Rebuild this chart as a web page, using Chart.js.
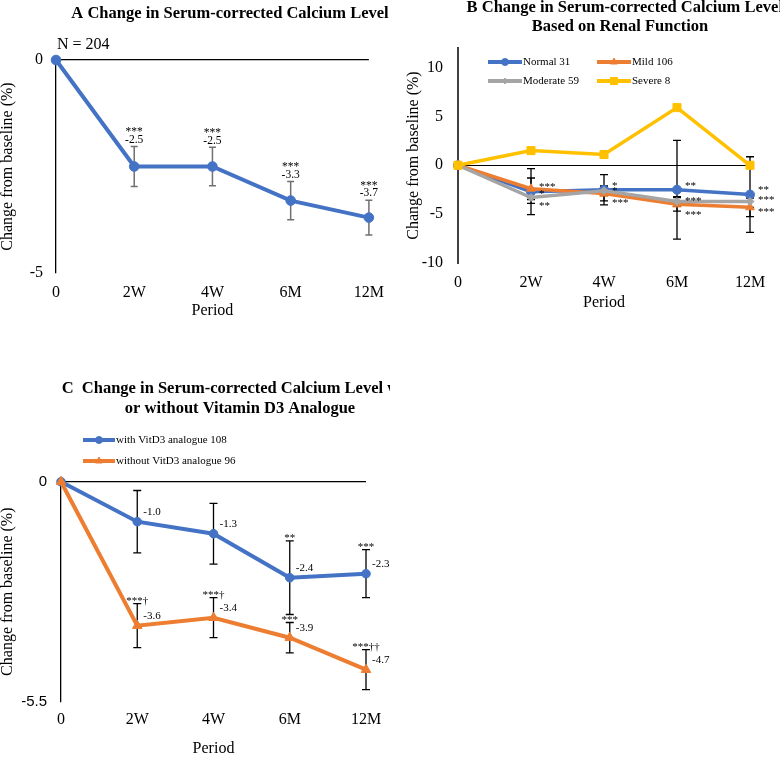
<!DOCTYPE html>
<html><head><meta charset="utf-8">
<script src="https://cdn.jsdelivr.net/npm/chart.js@4.4.1/dist/chart.umd.min.js"></script>
<style>
html,body{margin:0;padding:0;background:#fff;overflow:hidden;width:780px;height:757px;}
.panel{position:absolute;overflow:hidden;}
canvas{display:block;}
</style></head><body>
<div class="panel" style="left:0;top:0;width:390px;height:330px"><canvas id="cA" width="396" height="330"></canvas></div>
<div class="panel" style="left:390px;top:0;width:390px;height:330px"><canvas id="cB" width="390" height="330"></canvas></div>
<div class="panel" style="left:0;top:380px;width:390px;height:377px"><canvas id="cC" width="393" height="377"></canvas></div>
<script>
// ---------- data ----------
const periods = ['0', '2W', '4W', '6M', '12M'];

// Panel A (N = 204)
const allMean = [0, -2.5, -2.5, -3.3, -3.7];
const allErr  = [0, 0.47, 0.45, 0.45, 0.41];
const allSig  = ['', '***', '***', '***', '***'];
const yTicksA = [-5, 0];

// Panel B (renal function)
const normalMean   = [0, -2.7, -2.5, -2.5, -3.0];
const normalErr    = [0, 2.35, 1.55, 5.05, 3.87];
const normalSig    = ['', '*', '*', '**', '**'];
const mildMean     = [0, -2.4, -2.9, -4.0, -4.3];
const mildErr      = [0, 1.1, 0.75, 0.7, 0.95];
const mildSig      = ['', '***', '***', '***', '***'];
const moderateMean = [0, -3.3, -2.6, -3.7, -3.7];
const moderateErr  = [0, 0.6, 0.5, 0.5, 0.6];
const moderateSig  = ['', '**', '*', '***', '***'];
const severeMean   = [0, 1.5, 1.1, 5.9, 0];
const yTicksB = [-10, -5, 0, 5, 10];

// Panel C (vitamin D3 analogue)
const withVitMean    = [0, -1.0, -1.3, -2.4, -2.3];
const withVitErr     = [0, 0.78, 0.76, 0.92, 0.6];
const withVitSig     = ['', '', '', '**', '***'];
const withoutVitMean = [0, -3.6, -3.4, -3.9, -4.7];
const withoutVitErr  = [0, 0.55, 0.5, 0.38, 0.5];
const withoutVitSig  = ['', '***†', '***†', '***', '***††'];
const yTicksC = [-5.5, 0];

// ---------- style ----------
const SERIF = '"Liberation Serif", "Times New Roman", serif';
const SANS = '"Liberation Sans", Arial, sans-serif';
const BLUE = '#4472C4', ORANGE = '#ED7D31', GRAY = '#A5A5A5', YELLOW = '#FFC000';
Chart.defaults.font.family = SERIF;
Chart.defaults.color = '#000';

// label nudges (style only) for panel B significance marks
const nudgeNormal = [0, 0, -6.7, -6, -7.3];
const nudgeMild = [0, -4.3, 6.7, 7.7, 2];
const nudgeModerate = [0, 6, -2, -2.7, -3.7];

function drawText(ctx, t) {
  ctx.save();
  ctx.font = (t.bold ? 'bold ' : '') + t.size + 'px ' + (t.family || SERIF);
  ctx.fillStyle = '#000';
  ctx.textAlign = t.align || 'center';
  ctx.textBaseline = 'alphabetic';
  ctx.fillText(t.text, t.x, t.y);
  ctx.restore();
}

const decor = {
  id: 'decor',
  beforeDatasetsDraw(chart, args, opts) {
    const xs = chart.scales.x, ys = chart.scales.y, ctx = chart.ctx;
    chart.data.datasets.forEach(ds => {
      if (!ds.errors) return;
      ctx.save();
      ctx.strokeStyle = opts.errColor;
      ctx.lineWidth = opts.errWidth;
      ds.data.forEach((v, i) => {
        const e = ds.errors[i];
        if (!e) return;
        const x = xs.getPixelForValue(i);
        const y1 = ys.getPixelForValue(v + e), y2 = ys.getPixelForValue(v - e);
        const c = opts.capHalf;
        ctx.beginPath();
        ctx.moveTo(x, y1); ctx.lineTo(x, y2);
        ctx.moveTo(x - c, y1); ctx.lineTo(x + c, y1);
        ctx.moveTo(x - c, y2); ctx.lineTo(x + c, y2);
        ctx.stroke();
      });
      ctx.restore();
    });
  },
  afterDatasetsDraw(chart, args, opts) {
    const ctx = chart.ctx, xs = chart.scales.x, ys = chart.scales.y;
    ctx.save();
    ctx.font = opts.noteSize + 'px ' + SERIF;
    ctx.fillStyle = '#000';
    ctx.textBaseline = 'alphabetic';
    chart.data.datasets.forEach(ds => {
      if (!ds.sig) return;
      ds.data.forEach((v, i) => {
        if (i === 0) return;
        const s = ds.sig[i];
        const e = ds.errors ? ds.errors[i] : 0;
        const x = xs.getPixelForValue(i), y = ys.getPixelForValue(v), yTop = ys.getPixelForValue(v + e);
        if (opts.labelMode === 'above') {
          ctx.textAlign = 'center';
          if (ds.showValues) ctx.fillText(v.toFixed(1), x, yTop - 3.7);
          if (s) ctx.fillText(s, x, yTop - 11);
        } else if (opts.labelMode === 'side') {
          if (s) { ctx.textAlign = 'center'; ctx.fillText(s, x, yTop + 0.5); }
          if (ds.showValues) { ctx.textAlign = 'left'; ctx.fillText(v.toFixed(1), x + 6, y - 7); }
        } else {
          if (s) {
            ctx.textAlign = 'left';
            const n = ds.sigNudge ? ds.sigNudge[i] : 0;
            ctx.fillText(s, x + 8, y + n + 5.5);
          }
        }
      });
    });
    ctx.restore();
    (opts.titles || []).forEach(t => drawText(ctx, t));
    if (opts.legend) {
      const L = opts.legend;
      L.items.forEach(it => {
        const ds = chart.data.datasets[it.ds];
        ctx.save();
        ctx.strokeStyle = ds.borderColor;
        ctx.lineWidth = L.lineWidth;
        ctx.beginPath(); ctx.moveTo(it.x, it.y); ctx.lineTo(it.x + L.lineLen, it.y); ctx.stroke();
        ctx.fillStyle = ds.borderColor;
        ctx.lineWidth = 1;
        Chart.helpers.drawPoint(ctx, {pointStyle: ds.pointStyle, radius: ds.legendRadius, rotation: 0, borderWidth: 1}, it.x + L.lineLen / 2, it.y);
        ctx.fillStyle = '#000';
        ctx.font = L.size + 'px ' + SERIF;
        ctx.textAlign = 'left';
        ctx.textBaseline = 'middle';
        ctx.fillText(ds.label, it.x + L.lineLen + 1, it.y);
        ctx.restore();
      });
    }
  }
};

function series(label, data, color, style, radius, extra) {
  return Object.assign({
    label, data,
    borderColor: color, backgroundColor: color,
    pointBackgroundColor: color, pointBorderColor: color,
    pointStyle: style, pointRadius: radius, pointBorderWidth: 1,
    borderWidth: 4, tension: 0, clip: false, legendRadius: radius * 0.8
  }, extra || {});
}

function makeChart(id, datasets, yMin, yMax, yTicks, g, decorOpts, yTickFont) {
  return new Chart(document.getElementById(id), {
    type: 'line',
    data: {labels: periods, datasets},
    options: {
      responsive: false, animation: false, devicePixelRatio: 1,
      layout: {padding: g.padding},
      plugins: {legend: {display: false}, title: {display: false}, tooltip: {enabled: false}, decor: decorOpts},
      scales: {
        x: {
          type: 'category', offset: false,
          grid: {display: false, drawTicks: false}, border: {display: false},
          ticks: {font: {family: SERIF, size: 16, lineHeight: 1}, color: '#000', padding: g.xTickPad, maxRotation: 0, autoSkip: false},
          title: {display: true, text: 'Period', font: {family: SERIF, size: 16, lineHeight: 1}, color: '#000', padding: {top: 0, bottom: g.xTitlePadB}},
          afterFit: s => { s.height = g.xH; }
        },
        y: {
          min: yMin, max: yMax,
          afterBuildTicks: s => { s.ticks = yTicks.map(v => ({value: v})); },
          grid: {drawTicks: false, color: c => (c.tick && c.tick.value === 0) ? '#000' : 'rgba(0,0,0,0)', lineWidth: g.zeroW},
          border: {display: true, color: g.axisColor, width: g.axisW},
          ticks: {font: yTickFont, color: '#000', padding: g.yTickPad, callback: v => String(v)},
          title: {display: true, text: 'Change from baseline (%)', font: {family: SERIF, size: 16, lineHeight: 1}, color: '#000', padding: {top: g.yTitlePadT, bottom: 0}},
          afterFit: s => { s.width = g.yW; }
        }
      }
    },
    plugins: [decor]
  });
}

// ---------- Panel A ----------
makeChart('cA', [
  series('N = 204', allMean, BLUE, 'circle', 4.8, {errors: allErr, sig: allSig, showValues: true})
], -5, 0, yTicksA,
  {padding: {left: 0, top: 60, right: 27, bottom: 7}, xH: 50, xTickPad: 12, xTitlePadB: 4, yW: 56, yTitlePadT: 0, yTickPad: 13, zeroW: 1.3, axisColor: '#000', axisW: 1.3},
  {errColor: '#707070', errWidth: 1.5, capHalf: 3.5, labelMode: 'above', noteSize: 11.5,
   titles: [
     {text: 'A Change in Serum-corrected Calcium Level', x: 230, y: 17.5, bold: true, size: 16.5},
     {text: 'N = 204', x: 57, y: 49, align: 'left', size: 16}
   ]},
  {family: SERIF, size: 16, lineHeight: 1});

// ---------- Panel B ----------
makeChart('cB', [
  series('Normal 31', normalMean, BLUE, 'circle', 4.5, {borderWidth: 3.5, errors: normalErr, sig: normalSig, sigNudge: nudgeNormal, order: 4, legendRadius: 3.5}),
  series('Mild 106', mildMean, ORANGE, 'triangle', 5, {borderWidth: 3.5, errors: mildErr, sig: mildSig, sigNudge: nudgeMild, order: 3, legendRadius: 4}),
  series('Moderate 59', moderateMean, GRAY, 'rectRot', 4, {borderWidth: 3.5, errors: moderateErr, sig: moderateSig, sigNudge: nudgeModerate, order: 2, legendRadius: 3}),
  series('Severe 8', severeMean, YELLOW, 'rect', 5.7, {borderWidth: 3.5, order: 1, legendRadius: 5})
], -10, 12, yTicksB,
  {padding: {left: 0, top: 48, right: 30, bottom: 17}, xH: 50, xTickPad: 12, xTitlePadB: 2.3, yW: 68, yTitlePadT: 16, yTickPad: 15, zeroW: 1, axisColor: '#404040', axisW: 2},
  {errColor: '#000', errWidth: 1.3, capHalf: 4, labelMode: 'right', noteSize: 11,
   titles: [
     {text: 'B Change in Serum-corrected Calcium Level', x: 234.8, y: 12, bold: true, size: 16.5},
     {text: 'Based on Renal Function', x: 230, y: 31, bold: true, size: 16.5}
   ],
   legend: {items: [{ds: 0, x: 98, y: 62}, {ds: 1, x: 207, y: 62}, {ds: 2, x: 98, y: 81}, {ds: 3, x: 207, y: 81}], lineLen: 34, lineWidth: 4, size: 11}},
  {family: SERIF, size: 16, lineHeight: 1});

// ---------- Panel C ----------
makeChart('cC', [
  series('with VitD3 analogue 108', withVitMean, BLUE, 'circle', 4.3, {errors: withVitErr, sig: withVitSig, showValues: true, order: 2, legendRadius: 3.5}),
  series('without VitD3 analogue 96', withoutVitMean, ORANGE, 'triangle', 5.5, {errors: withoutVitErr, sig: withoutVitSig, showValues: true, order: 1, legendRadius: 4})
], -5.5, 0, yTicksC,
  {padding: {left: 0, top: 101.7, right: 27, bottom: 0}, xH: 55.3, xTickPad: 10.3, xTitlePadB: 0, yW: 61, yTitlePadT: 0, yTickPad: 14, zeroW: 1.3, axisColor: '#000', axisW: 1.3},
  {errColor: '#000', errWidth: 1.3, capHalf: 4, labelMode: 'side', noteSize: 11,
   titles: [
     {text: 'C  Change in Serum-corrected Calcium Level with', x: 240, y: 13, bold: true, size: 16.5},
     {text: 'or without Vitamin D3 Analogue', x: 240, y: 33, bold: true, size: 16.5}
   ],
   legend: {items: [{ds: 0, x: 83, y: 60}, {ds: 1, x: 83, y: 81}], lineLen: 32, lineWidth: 4, size: 11}},
  {family: SANS, size: 15, lineHeight: 1});
</script>
</body></html>
